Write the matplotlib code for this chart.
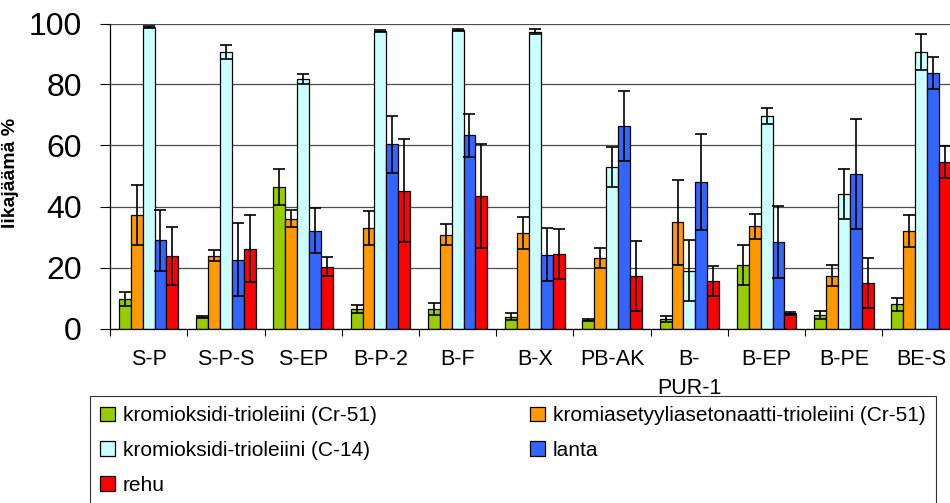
import numpy as np
import matplotlib

matplotlib.use("Agg")
import matplotlib.pyplot as plt

plt.rcParams["font.family"] = ["Liberation Sans", "DejaVu Sans"]

categories = ["S-P", "S-P-S", "S-EP", "B-P-2", "B-F", "B-X", "PB-AK",
              "B-\nPUR-1", "B-EP", "B-PE", "BE-S"]

series_names = [
    "kromioksidi-trioleiini (Cr-51)",
    "kromiasetyyliasetonaatti-trioleiini (Cr-51)",
    "kromioksidi-trioleiini (C-14)",
    "lanta",
    "rehu",
]

cr_oxide = [9.7, 3.9, 46.4, 6.3, 6.3, 3.9, 2.8, 3.1, 20.8, 4.4, 8.0]
cr_oxide_err = [2.3, 0.3, 5.9, 1.3, 2.0, 1.2, 0.3, 1.0, 6.7, 1.2, 2.1]
cr_acac = [37.1, 23.8, 36.0, 33.0, 30.8, 31.3, 23.2, 34.8, 33.6, 17.3, 32.0]
cr_acac_err = [9.8, 1.8, 2.7, 5.5, 3.4, 5.2, 3.3, 14.0, 4.1, 3.5, 5.2]
c14 = [98.8, 90.6, 81.8, 97.6, 97.9, 97.3, 52.9, 19.0, 69.7, 44.1, 90.7]
c14_err = [0.3, 2.4, 1.5, 0.3, 0.4, 0.8, 6.5, 10.0, 2.7, 8.1, 5.9]
lanta = [29.0, 22.5, 32.0, 60.4, 63.3, 24.2, 66.3, 48.1, 28.4, 50.6, 83.7]
lanta_err = [10.0, 12.0, 7.4, 9.4, 7.0, 8.7, 11.5, 15.7, 11.7, 18.0, 5.2]
rehu = [23.8, 26.2, 20.3, 45.2, 43.4, 24.3, 17.3, 15.6, 5.0, 14.9, 54.6]
rehu_err = [9.5, 11.0, 3.0, 17.0, 17.0, 8.2, 11.5, 4.8, 0.5, 8.2, 5.3]

yticks = [0, 20, 40, 60, 80, 100]

values = [cr_oxide, cr_acac, c14, lanta, rehu]
errors = [cr_oxide_err, cr_acac_err, c14_err, lanta_err, rehu_err]
colors = ["#99cc00", "#ff9900", "#ccffff", "#3366ff", "#ff0000"]

fig = plt.figure(figsize=(9.5, 5.03), dpi=100)
# plot area runs a little past the right edge of the figure
ax = fig.add_axes([110 / 950, 1 - 328.5 / 503, 849.75 / 950, 305 / 503])

n = len(categories)
centers = np.arange(n) + 0.5
width = 0.1535

handles = []
for k, (vals, errs, col, name) in enumerate(zip(values, errors, colors, series_names)):
    x = centers + (k - 2) * width
    bars = ax.bar(x, vals, width=width, color=col, edgecolor="black",
                  linewidth=0.9, label=name, zorder=2)
    ax.errorbar(x, vals, yerr=errs, fmt="none", ecolor="black",
                elinewidth=1.2, capsize=4.6, capthick=1.2, zorder=3)
    handles.append(bars)

ax.set_xlim(0, n)
ax.set_ylim(0, 100)
ax.set_yticks(yticks)
ax.set_yticklabels([str(v) for v in yticks], fontsize=23)
ax.tick_params(axis="y", direction="out", length=7.2, width=0.8, pad=13)

# group boundaries carry the tick marks, centres carry the labels
ax.set_xticks(np.arange(n + 1))
ax.set_xticklabels([])
ax.set_xticks(centers, minor=True)
ax.set_xticklabels(categories, minor=True, fontsize=15.5, linespacing=1.45)
ax.tick_params(axis="x", which="major", direction="out", length=5, width=0.8)
ax.tick_params(axis="x", which="minor", length=0, pad=15)

ax.set_axisbelow(True)
ax.yaxis.grid(True, color="#4d4d4d", linewidth=0.9)
ax.spines["top"].set_visible(False)
ax.spines["right"].set_visible(False)
ax.spines["left"].set_linewidth(0.9)
ax.spines["bottom"].set_linewidth(0.9)

ax.set_ylabel("Iikajäämä %", fontsize=14, fontweight="bold")
ax.yaxis.set_label_coords(-0.107, 0.51)

order = [0, 2, 4, 1, 3]
leg = fig.legend(
    [handles[i] for i in order],
    [series_names[i] for i in order],
    loc="upper left",
    bbox_to_anchor=(89.5 / 950, 0, (936 - 89.5) / 950, 1 - 396 / 503),
    mode="expand",
    ncol=2,
    fontsize=15,
    frameon=True,
    fancybox=False,
    borderaxespad=0,
    borderpad=0.5,
    handlelength=0.7,
    handleheight=0.7,
    handletextpad=0.4,
    labelspacing=0.75,
)
leg.get_frame().set_edgecolor("black")
leg.get_frame().set_linewidth(0.8)

fig.savefig("out.png", dpi=100)
